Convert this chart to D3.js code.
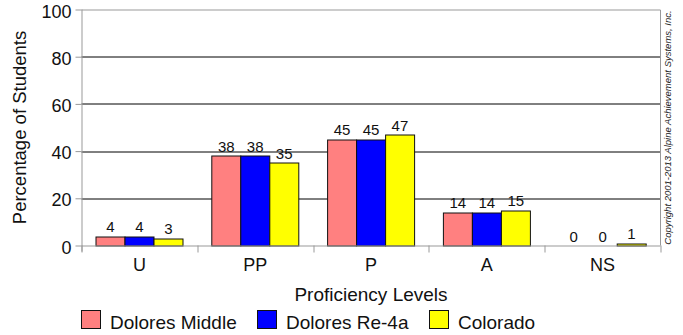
<!DOCTYPE html>
<html>
<head>
<meta charset="utf-8">
<script src="https://cdn.jsdelivr.net/npm/d3@7"></script>
<style>
  body { margin: 0; background: #fff; }
  svg { display: block; font-family: 'Liberation Sans', Arial, sans-serif; }
</style>
</head>
<body>
<svg id="chart" width="683" height="335"></svg>
<script>
const categories = ['U', 'PP', 'P', 'A', 'NS']
const seriesNames = ['Dolores Middle', 'Dolores Re-4a', 'Colorado']
const seriesColors = ['#ff8080', '#0000ff', '#ffff00']
const doloresMiddle = [4, 38, 45, 14, 0]
const doloresRe4a = [4, 38, 45, 14, 0]
const colorado = [3, 35, 47, 15, 1]
const yTicks = [0, 20, 40, 60, 80, 100]

const series = [doloresMiddle, doloresRe4a, colorado]

const margin = { top: 9.5, left: 81.5, right: 22.5, bottom: 89.5 }
const width = 683 - margin.left - margin.right
const height = 335 - margin.top - margin.bottom
const font = 'Liberation Sans, Arial, sans-serif'

const svg = d3.select('#chart')
const g = svg.append('g').attr('transform', `translate(${margin.left},${margin.top})`)

const x0 = d3.scaleBand().domain(categories).range([0, width])
const x1 = d3.scaleBand().domain(d3.range(series.length)).range([x0.bandwidth() * 0.125, x0.bandwidth() * 0.875])
const y = d3.scaleLinear().domain([0, 100]).range([height, 0])

// grid lines
g.selectAll('.grid')
  .data(yTicks.filter((t) => t > 0 && t < 100))
  .enter()
  .append('line')
  .attr('x1', 0)
  .attr('x2', width)
  .attr('y1', (d) => Math.round(y(d)) + 0.5)
  .attr('y2', (d) => Math.round(y(d)) + 0.5)
  .attr('stroke', '#000')
  .attr('stroke-width', 1)

// top / right frame
g.append('path')
  .attr('d', `M0,0.5H${width}V${height}`)
  .attr('fill', 'none')
  .attr('stroke', '#999')

// bars
const groups = g.selectAll('.grp')
  .data(categories)
  .enter()
  .append('g')
  .attr('transform', (d) => `translate(${x0(d)},0)`)

groups.selectAll('rect')
  .data((c, ci) => series.map((s, si) => ({ si, v: s[ci] })))
  .enter()
  .append('rect')
  .filter((d) => d.v > 0)
  .attr('x', (d) => Math.round(x1(d.si)) + 0.5)
  .attr('y', (d) => Math.round(y(d.v)) + 0.5)
  .attr('width', Math.round(x1.bandwidth()))
  .attr('height', (d) => height - Math.round(y(d.v)))
  .attr('fill', (d) => seriesColors[d.si])
  .attr('stroke', '#111')
  .attr('stroke-width', 1)

groups.selectAll('text')
  .data((c, ci) => series.map((s, si) => ({ si, v: s[ci] })))
  .enter()
  .append('text')
  .attr('x', (d) => x1(d.si) + x1.bandwidth() / 2)
  .attr('y', (d) => y(d.v) - 4)
  .attr('text-anchor', 'middle')
  .attr('font-size', 15)
  .attr('fill', '#111')
  .text((d) => d.v)

// axes
const yAxis = d3.axisLeft(y).tickValues(yTicks).tickSize(6).tickPadding(4)
const ya = g.append('g').call(yAxis)
ya.select('.domain').attr('stroke', '#999').attr('d', `M0.5,0V${height + 6}`)
ya.selectAll('.tick line').attr('stroke', '#999')
ya.selectAll('.tick text')
  .attr('font-size', 18)
  .attr('dy', '0.42em')
  .attr('fill', '#111')
  .attr('font-family', font)

const xAxis = d3.axisBottom(x0).tickSize(0).tickPadding(13)
const xa = g.append('g').attr('transform', `translate(0,${height})`).call(xAxis)
xa.select('.domain').attr('stroke', '#999').attr('d', `M0,0.5H${width}`)
xa.selectAll('.tick text').attr('font-size', 18).attr('fill', '#111').attr('font-family', font)

// category separator ticks
xa.selectAll('.sep')
  .data(d3.range(categories.length + 1))
  .enter()
  .append('line')
  .attr('x1', (i) => Math.round(i * x0.step()) + 0.5)
  .attr('x2', (i) => Math.round(i * x0.step()) + 0.5)
  .attr('y1', 0)
  .attr('y2', 7)
  .attr('stroke', '#999')

// titles
svg.append('text')
  .attr('transform', `translate(26,${margin.top + height / 2}) rotate(-90)`)
  .attr('text-anchor', 'middle')
  .attr('font-size', 18.5)
  .attr('fill', '#111')
  .text('Percentage of Students')

svg.append('text')
  .attr('x', margin.left + width / 2)
  .attr('y', 301)
  .attr('text-anchor', 'middle')
  .attr('font-size', 19)
  .attr('fill', '#111')
  .text('Proficiency Levels')

svg.append('text')
  .attr('transform', `translate(671,${margin.top + height / 2}) rotate(-90)`)
  .attr('text-anchor', 'middle')
  .attr('font-size', 9.5)
  .attr('font-style', 'italic')
  .attr('fill', '#222')
  .text('Copyright 2001-2013 Alpine Achievement Systems, Inc.')

// legend
const legendX = [81, 257, 429]
const legend = svg.selectAll('.leg')
  .data(seriesNames)
  .enter()
  .append('g')
  .attr('transform', (d, i) => `translate(${legendX[i]},310)`)

legend.append('rect')
  .attr('x', 0.5)
  .attr('y', 0.5)
  .attr('width', 19)
  .attr('height', 18)
  .attr('fill', (d, i) => seriesColors[i])
  .attr('stroke', '#111')

legend.append('text')
  .attr('x', 29)
  .attr('y', 18.5)
  .attr('font-size', 19)
  .attr('fill', '#111')
  .text((d) => d)
</script>
</body>
</html>
